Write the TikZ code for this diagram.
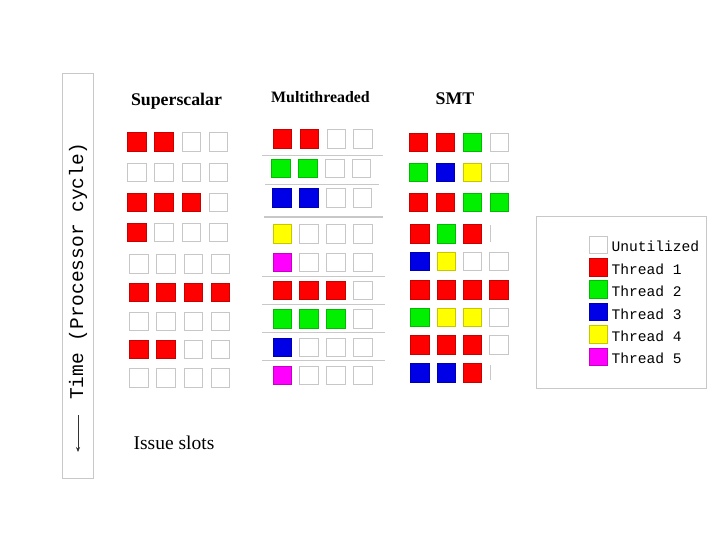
\documentclass[tikz,border=0pt]{standalone}
\usepackage{fontspec}
\setmainfont{Liberation Serif}
\newfontfamily\slotmono{Liberation Mono}
\usetikzlibrary{arrows.meta}

\definecolor{idle}{RGB}{255,255,255}
\definecolor{t1}{RGB}{255,0,0}
\definecolor{t2}{RGB}{0,240,0}
\definecolor{t3}{RGB}{0,0,230}
\definecolor{t4}{RGB}{255,255,0}
\definecolor{t5}{RGB}{255,0,255}
\definecolor{framegray}{RGB}{200,200,200}

\tikzset{
  slot/.style={minimum size=18.5pt, inner sep=0pt, line width=0.7pt},
  keybox/.style={minimum size=17.5pt, inner sep=0pt, line width=0.7pt},
  keytext/.style={font=\slotmono\fontsize{14.6}{15}\selectfont, inner sep=0pt},
  title/.style={font=\bfseries\fontsize{17.8}{18}\selectfont},
  sepline/.style={draw=framegray, line width=0.9pt}
}

\begin{document}
\begin{tikzpicture}[x=1pt, y=-1pt]
    \useasboundingbox (0,0) rectangle (720,540);

    % time axis
    \draw[framegray, line width=0.9pt] (62,73) rectangle (93,478);
    \node[rotate=90, font=\slotmono\fontsize{19.5}{20}\selectfont] (timelbl) at (78,271) {Time (Processor cycle)};
    \coordinate (arrtop) at (78,415);
    \coordinate (arrbot) at (78,452);
    \draw[black!80, line width=0.6pt, -{Stealth[length=5pt, width=4pt]}] (arrtop) -- (arrbot);

    % titles
    \node[title] (sstitle) at (176.5,101) {Superscalar};
    \node[title, font=\bfseries\fontsize{15.9}{16}\selectfont] (mttitle) at (320.5,97) {Multithreaded};
    \node[title] (smttitle) at (455,99) {SMT};
    \node[font=\fontsize{19.5}{20}\selectfont] (slotlbl) at (174,443) {Issue slots};

    % superscalar
    \foreach \r/\y/\x/\cols in {
        1/142/136.7/{t1,t1,idle,idle},
        2/172.5/136.7/{idle,idle,idle,idle},
        3/202.5/136.7/{t1,t1,t1,idle},
        4/232.5/136.7/{t1,idle,idle,idle},
        5/264/138.7/{idle,idle,idle,idle},
        6/292.5/138.7/{t1,t1,t1,t1},
        7/321.3/138.7/{idle,idle,idle,idle},
        8/349.2/138.7/{t1,t1,idle,idle},
        9/378/138.7/{idle,idle,idle,idle}} {
        \foreach \c [count=\i] in \cols
            \node[slot, fill=\c, draw=\c!78!black] (ss-\r-\i) at ({\x+(\i-1)*27.2},\y) {};
    }

    % multithreaded
    \foreach \r/\y/\x/\cols in {
        1/139/282.5/{t1,t1,idle,idle},
        2/168.3/281/{t2,t2,idle,idle},
        3/197.8/282/{t3,t3,idle,idle},
        4/233.8/282.2/{t4,idle,idle,idle},
        5/262.2/282.2/{t5,idle,idle,idle},
        6/290.5/282.2/{t1,t1,t1,idle},
        7/318.8/282.2/{t2,t2,t2,idle},
        8/347.2/282.2/{t3,idle,idle,idle},
        9/375.5/282.2/{t5,idle,idle,idle}} {
        \foreach \c [count=\i] in \cols
            \node[slot, fill=\c, draw=\c!78!black] (mt-\r-\i) at ({\x+(\i-1)*26.8},\y) {};
    }
    \draw[sepline] (262,155) -- (383,155);
    \draw[sepline] (265,184.3) -- (379,184.3);
    \draw[sepline, line width=1.8pt] (264,216.7) -- (383,216.7);
    \foreach \y in {276,304.3,332.7,360.7}
        \draw[sepline] (262,\y) -- (385,\y);

    % smt
    \foreach \r/\y/\x/\p/\cols in {
        1/142.2/418.5/26.9/{t1,t1,t2,idle},
        2/172.2/418.5/26.9/{t2,t3,t4,idle},
        3/202.2/418.5/26.9/{t1,t1,t2,t2},
        4/233.7/420/26.2/{t1,t2,t1},
        5/261.2/420/26.2/{t3,t4,idle,idle},
        6/289.8/420/26.2/{t1,t1,t1,t1},
        7/317.2/420/26.2/{t2,t4,t4,idle},
        8/344.7/420/26.2/{t1,t1,t1,idle},
        9/373/420/26.2/{t3,t3,t1}} {
        \foreach \c [count=\i] in \cols
            \node[slot, fill=\c, draw=\c!78!black] (smt-\r-\i) at ({\x+(\i-1)*\p},\y) {};
    }
    \draw[framegray, line width=0.7pt] (490,225.5) -- (490,241.5);
    \draw[framegray, line width=0.7pt] (490,365) -- (490,380);

    % legend
    \draw[framegray, line width=0.9pt] (536,216.7) rectangle (706,388.3);
    \foreach \c/\t [count=\k] in {idle/Unutilized, t1/Thread 1, t2/Thread 2, t3/Thread 3, t4/Thread 4, t5/Thread 5} {
        \node[keybox, fill=\c, draw=\c!78!black] (key-\k) at (598.3,{222.3+\k*22.4}) {};
        \node[keytext, anchor=west, xshift=4pt, yshift=-2pt] (keylbl-\k) at (key-\k.east) {\t};
    }
\end{tikzpicture}
\end{document}
